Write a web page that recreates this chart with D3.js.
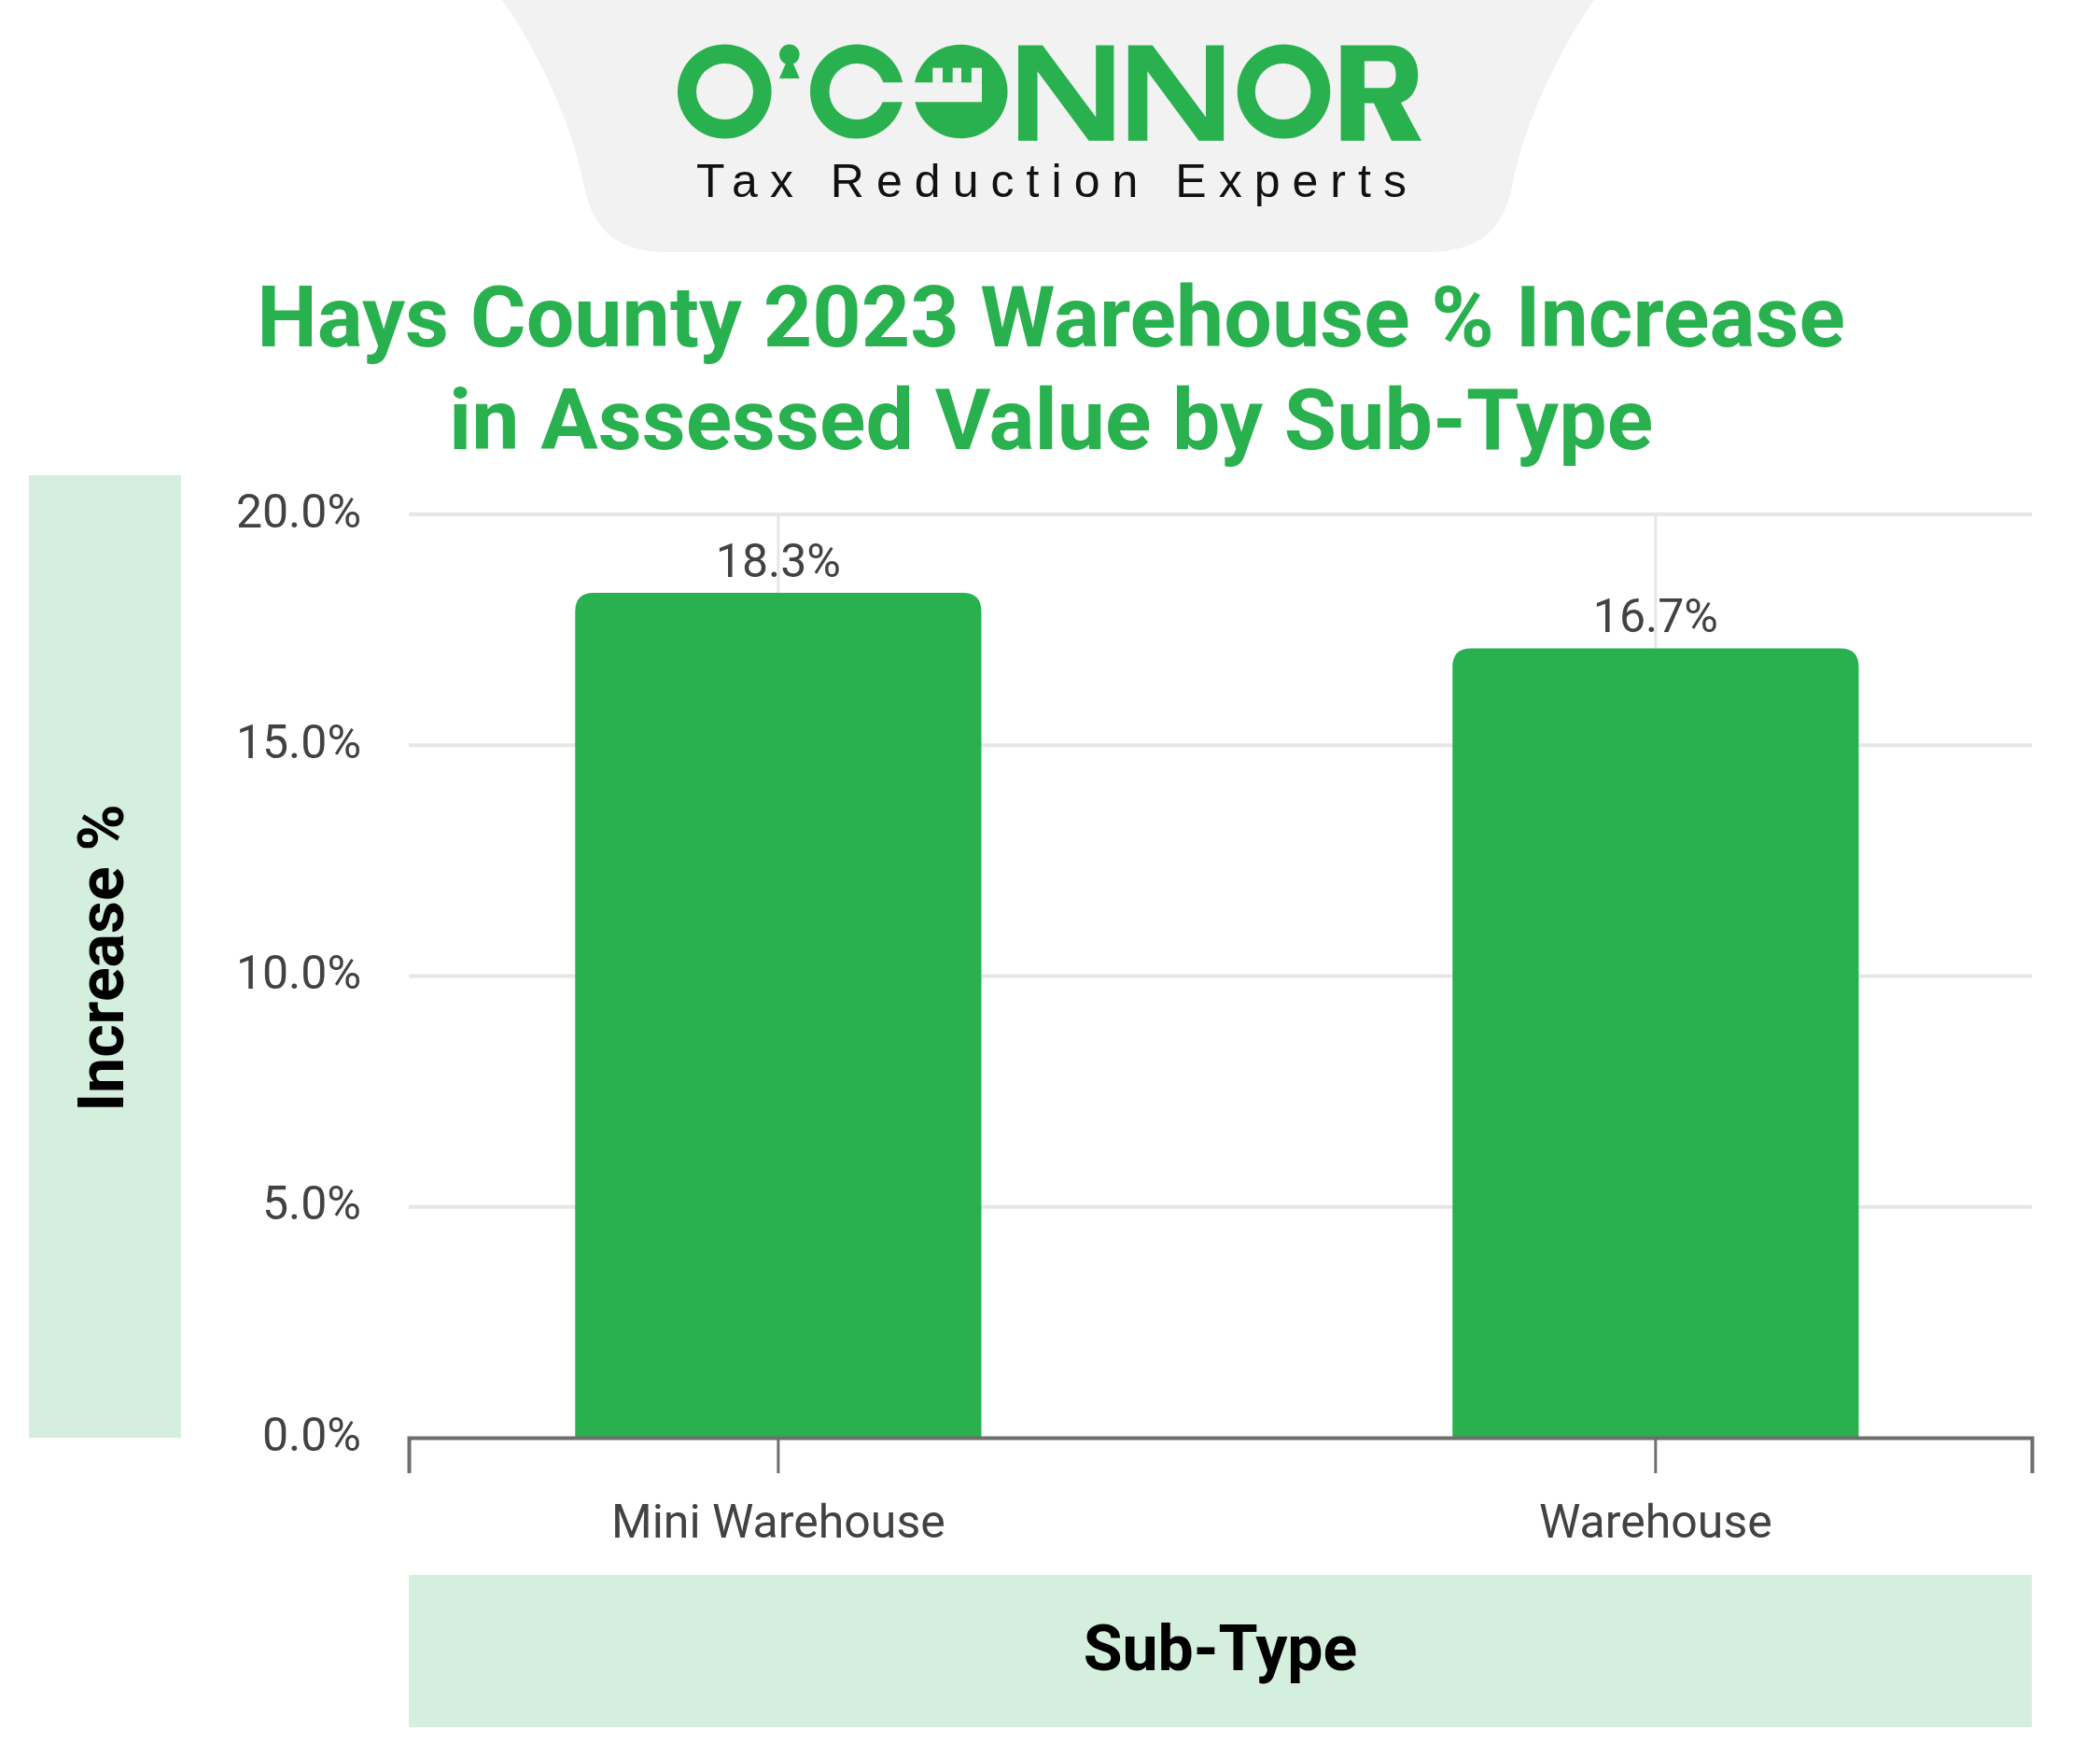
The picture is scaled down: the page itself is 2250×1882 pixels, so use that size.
<!DOCTYPE html>
<html>
<head>
<meta charset="utf-8">
<script src="https://cdn.jsdelivr.net/npm/d3@7"></script>
<style>
  html, body { margin: 0; padding: 0; background: #ffffff; }
  svg { display: block; }
</style>
</head>
<body>
<svg id="chart" width="2250" height="1882"></svg>
<script>
// ---- data ----
const categories = ["Mini Warehouse", "Warehouse"];
const barValues = [18.3, 17.1];           // bar heights as drawn in the reference
const labelValues = [18.3, 16.7];         // printed data labels
const yTicks = [0, 5, 10, 15, 20];
const titleLines = ["Hays County 2023 Warehouse % Increase", "in Assessed Value by Sub-Type"];
const xAxisTitle = "Sub-Type";
const yAxisTitle = "Increase %";
const brandTagline = "Tax Reduction Experts";

// ---- styles ----
const GREEN = "#28b14e";
const PALE = "#d4efde";
const TEXT = "#424242";

const svg = d3.select("#chart");

// ---- logo ----
const logo = svg.append("g");
logo.append("path")
  .attr("d", "M538,0 L1708,0 C1666,60 1631,140 1620,200 C1610,250 1581,270 1528,270 L717,270 C664,270 636,250 626,200 C615,140 580,60 538,0 Z")
  .attr("fill", "#f2f2f2");

const lg = logo.append("g").attr("fill", GREEN);
// O
lg.append("path").attr("fill-rule", "evenodd")
  .attr("d", "M726,98 a50.3,50.5 0 1,0 100.6,0 a50.3,50.5 0 1,0 -100.6,0 Z M746,98 a30.5,30 0 1,0 61,0 a30.5,30 0 1,0 -61,0 Z");
// keyhole apostrophe
lg.append("circle").attr("cx", 845.8).attr("cy", 58.3).attr("r", 10.8);
lg.append("path").attr("d", "M842.7,66 L849,66 L856.7,84 L835,84 Z");
// C
lg.append("path").attr("fill-rule", "evenodd")
  .attr("d", "M868,98 a50,50.5 0 1,0 100,0 a50,50.5 0 1,0 -100,0 Z M888.5,98 a29.7,30 0 1,0 59.4,0 a29.7,30 0 1,0 -59.4,0 Z");
logo.append("rect").attr("x", 918).attr("y", 88.3).attr("width", 55).attr("height", 21).attr("fill", "#f2f2f2");
// key O
lg.append("circle").attr("cx", 1029.3).attr("cy", 98).attr("r", 50.2);
const keyCut = logo.append("g").attr("fill", "#f2f2f2");
keyCut.append("rect").attr("x", 976).attr("y", 88.3).attr("width", 76).attr("height", 21);
[[999.3, 10.7], [1020.7, 9.3], [1040.9, 11.1]].forEach(([x, w]) =>
  keyCut.append("rect").attr("x", x).attr("y", 72.7).attr("width", w).attr("height", 16));
// N N
const nPts = "M1091,48.6 L1117,48.6 L1174.2,125.4 L1174.2,48.6 L1193.4,48.6 L1193.4,150.7 L1166.6,150.7 L1111.5,76.3 L1111.5,150.7 L1091,150.7 Z";
lg.append("path").attr("d", nPts);
lg.append("path").attr("d", nPts).attr("transform", "translate(117.8,0)");
// O
lg.append("path").attr("fill-rule", "evenodd")
  .attr("d", "M1325.7,98 a49.8,50.5 0 1,0 99.6,0 a49.8,50.5 0 1,0 -99.6,0 Z M1344.8,98 a29.8,30 0 1,0 59.6,0 a29.8,30 0 1,0 -59.6,0 Z");
// R
lg.append("path").attr("fill-rule", "evenodd")
  .attr("d", "M1436.6,48.6 L1490,48.6 C1509,48.6 1519.3,63 1519.3,80 C1519.3,96 1512,106 1501,110 L1523,150.7 L1491,150.7 L1472,110.5 L1461.9,110.5 L1461.9,150.7 L1436.6,150.7 Z M1461.9,65.6 L1485,65.6 C1492,65.6 1495.6,71 1495.6,80 C1495.6,89 1492,94.2 1485,94.2 L1461.9,94.2 Z");

logo.append("text")
  .attr("x", 746).attr("y", 211)
  .attr("textLength", 761).attr("lengthAdjust", "spacing")
  .attr("font-family", "'Liberation Sans Narrow', 'Liberation Sans', Arial, sans-serif")
  .attr("font-size", 50).attr("fill", "#111")
  .text(brandTagline);

// ---- title ----
svg.append("g").selectAll("text").data(titleLines).join("text")
  .attr("x", 1126).attr("y", (d, i) => 370.5 + i * 110.5)
  .attr("text-anchor", "middle")
  .attr("font-family", "Roboto, sans-serif").attr("font-weight", 700)
  .attr("font-size", 91.5).attr("fill", GREEN)
  .text(d => d);

// ---- axis title boxes ----
svg.append("rect").attr("x", 31).attr("y", 509).attr("width", 163).attr("height", 1031).attr("fill", PALE);
svg.append("text")
  .attr("transform", "translate(132,1026) rotate(-90)")
  .attr("text-anchor", "middle")
  .attr("font-family", "Roboto, sans-serif").attr("font-weight", 700)
  .attr("font-size", 68).attr("fill", "#000")
  .text(yAxisTitle);

svg.append("rect").attr("x", 438).attr("y", 1687).attr("width", 1739).attr("height", 163).attr("fill", PALE);
svg.append("text")
  .attr("x", 1307.5).attr("y", 1789)
  .attr("text-anchor", "middle")
  .attr("font-family", "Roboto, sans-serif").attr("font-weight", 700)
  .attr("font-size", 68).attr("fill", "#000")
  .text(xAxisTitle);

// ---- scales ----
const x = d3.scaleBand().domain(categories).range([438, 2177])
  .paddingInner(0.537).paddingOuter(0.1935).align(0.49);
const y = d3.scaleLinear().domain([0, 20]).range([1540, 551]);

// gridlines
svg.append("g").selectAll("line").data(yTicks.filter(t => t > 0)).join("line")
  .attr("x1", 438).attr("x2", 2177)
  .attr("y1", d => y(d)).attr("y2", d => y(d))
  .attr("stroke", "#e6e6e6").attr("stroke-width", 4);
svg.append("g").selectAll("line").data(categories).join("line")
  .attr("x1", d => x(d) + x.bandwidth() / 2).attr("x2", d => x(d) + x.bandwidth() / 2)
  .attr("y1", y(20)).attr("y2", y(0))
  .attr("stroke", "#e6e6e6").attr("stroke-width", 3);

// y axis labels
const yAxis = svg.append("g").attr("transform", "translate(438,0)")
  .call(d3.axisLeft(y).tickValues(yTicks).tickSize(0).tickFormat(d => d.toFixed(1) + "%"));
yAxis.select(".domain").remove();
yAxis.selectAll("text")
  .attr("x", -51).attr("dy", 13)
  .attr("font-family", "Roboto, sans-serif").attr("font-size", 50).attr("fill", TEXT);

// bars with rounded top corners
const r = 20;
svg.append("g").selectAll("path").data(categories).join("path")
  .attr("d", (d, i) => {
    const x0 = x(d), x1 = x(d) + x.bandwidth(), yt = y(barValues[i]), yb = y(0);
    return `M${x0},${yb} L${x0},${yt + r} Q${x0},${yt} ${x0 + r},${yt} L${x1 - r},${yt} Q${x1},${yt} ${x1},${yt + r} L${x1},${yb} Z`;
  })
  .attr("fill", GREEN);

// data labels
svg.append("g").selectAll("text").data(categories).join("text")
  .attr("x", d => x(d) + x.bandwidth() / 2)
  .attr("y", (d, i) => y(barValues[i]) - 17)
  .attr("text-anchor", "middle")
  .attr("font-family", "Roboto, sans-serif").attr("font-size", 50).attr("fill", TEXT)
  .text((d, i) => labelValues[i].toFixed(1) + "%");

// x axis
const xAxis = svg.append("g").attr("transform", "translate(0,1540)")
  .call(d3.axisBottom(x).tickSizeInner(38).tickSizeOuter(38));
xAxis.select(".domain").attr("stroke", "#6e6e6e").attr("stroke-width", 4);
xAxis.selectAll(".tick line").attr("stroke", "#6e6e6e").attr("stroke-width", 3);
xAxis.selectAll(".tick text")
  .attr("y", 107).attr("dy", 0)
  .attr("font-family", "Roboto, sans-serif").attr("font-size", 50).attr("fill", TEXT);
</script>
</body>
</html>
